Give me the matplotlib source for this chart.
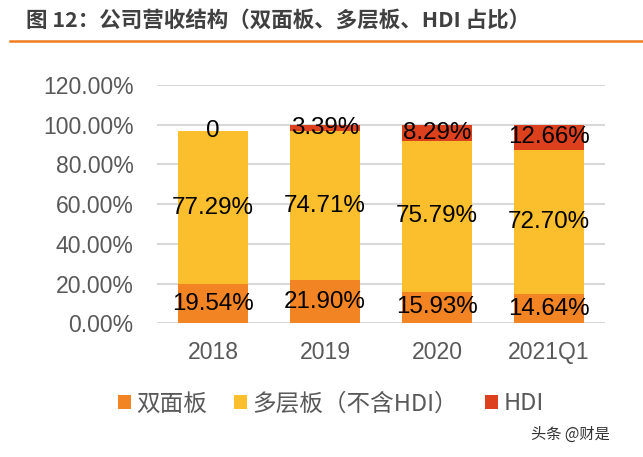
import matplotlib
matplotlib.use("Agg")
import matplotlib.pyplot as plt
from matplotlib.lines import Line2D
from matplotlib.patches import Patch

plt.rcParams['font.family'] = ['Liberation Sans', 'Noto Sans CJK SC', 'DejaVu Sans']

categories = ['2018', '2019', '2020', '2021Q1']
double_side = [19.54, 21.90, 15.93, 14.64]
multi_layer = [77.29, 74.71, 75.79, 72.70]
hdi = [0.0, 3.39, 8.29, 12.66]
hdi_labels = ['0', '3.39%', '8.29%', '12.66%']
yticks = [0, 20, 40, 60, 80, 100, 120]
series_names = ['双面板', '多层板（不含HDI）', 'HDI']
colors = ['#F28424', '#FBBE2C', '#DD401D']

fig = plt.figure(figsize=(6.43, 4.57), dpi=100)
ax = fig.add_axes([157/643, 1-323.3/457, 448/643, (323.3-85)/457])

x = list(range(len(categories)))
w = 0.62
ax.bar(x, double_side, width=w, color=colors[0], zorder=3)
bottom2 = double_side
ax.bar(x, multi_layer, width=w, bottom=bottom2, color=colors[1], zorder=3)
bottom3 = [a + b for a, b in zip(double_side, multi_layer)]
ax.bar(x, hdi, width=w, bottom=bottom3, color=colors[2], zorder=3)

fs = 17.4
for i in x:
    ax.text(i, double_side[i] / 2, f'{double_side[i]:.2f}%', ha='center', va='center',
            fontsize=fs, color='black', zorder=5)
    ax.text(i, bottom2[i] + multi_layer[i] / 2, f'{multi_layer[i]:.2f}%', ha='center', va='center',
            fontsize=fs, color='black', zorder=5)
    ax.text(i, bottom3[i] + hdi[i] / 2, hdi_labels[i], ha='center', va='center',
            fontsize=fs, color='black', zorder=5)

ax.set_xlim(-0.5, len(categories) - 0.5)
ax.set_ylim(0, 120)
ax.set_yticks(yticks)
ax.set_yticklabels([f'{v:.2f}%' for v in yticks])
ax.set_xticks(x)
ax.set_xticklabels(categories)
ax.tick_params(axis='both', length=0, labelcolor='#595959')
ax.tick_params(axis='y', pad=17, labelsize=16.6)
ax.tick_params(axis='x', pad=13, labelsize=16.6)
ax.grid(axis='y', color='#D9D9D9', linewidth=1.5, zorder=0)
for s in ax.spines.values():
    s.set_visible(False)

# title
fig.text(26/643, 1-20/457, '图 12：公司营收结构（双面板、多层板、HDI 占比）', fontsize=15.5,
         fontweight='bold', color='#404040', ha='left', va='center',
         family=['Noto Sans CJK SC', 'DejaVu Sans'])
fig.add_artist(Line2D([10/643, 1.0], [1-41/457, 1-41/457], color='#F07D1E', linewidth=1.8,
                      transform=fig.transFigure))

handles = [Patch(facecolor=c) for c in colors]
leg = fig.legend(handles, series_names, loc='center', bbox_to_anchor=(331/643, 1-404/457), ncol=3,
                 frameon=False, handlelength=0.55, handleheight=0.55,
                 handletextpad=0.22, columnspacing=1.15,
                 prop={'family': ['Noto Sans CJK SC', 'DejaVu Sans'], 'size': 17})
for t in leg.get_texts():
    t.set_color('#595959')

fig.text(610/643, 1-434/457, '头条 @财是', fontsize=11, color='#333333', ha='right', va='center',
         family=['Noto Sans CJK SC', 'DejaVu Sans'])

fig.savefig('out.png', dpi=100)
